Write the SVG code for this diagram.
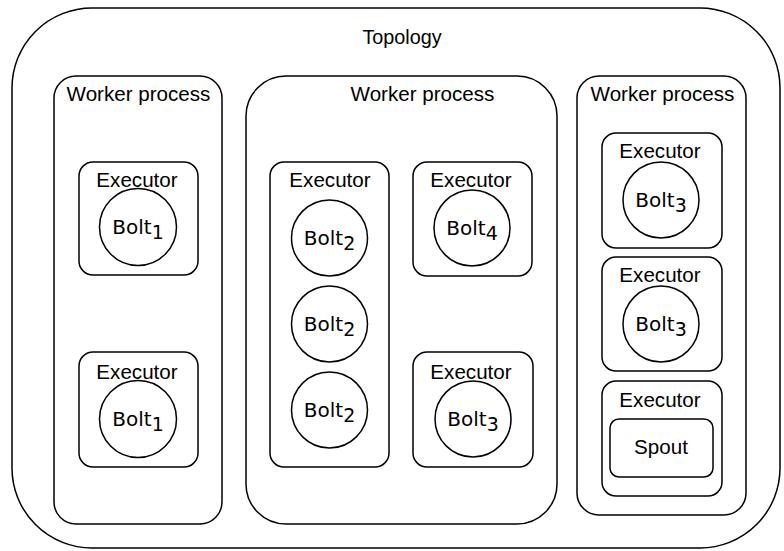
<svg xmlns="http://www.w3.org/2000/svg" width="784" height="551" viewBox="0 0 784 551">
<style>
.box{fill:none;stroke:#000;stroke-width:1.5}
.lbl{font-family:"Liberation Sans",Arial,sans-serif;font-size:20.6px;text-anchor:middle;fill:#000}
.bolt{font-family:"DejaVu Sans",Verdana,sans-serif;font-size:20px;text-anchor:middle;fill:#000}
.sub{font-size:19px}
</style>
<rect width="784" height="551" fill="#fff"/>
<g id="topology">
<rect class="box" x="12" y="8" width="768" height="540" rx="80" ry="80"/>
<text class="lbl" x="402" y="44" style="font-size:19.8px">Topology</text>
</g>
<g id="worker1">
<rect class="box" x="54" y="76" width="168" height="448" rx="22" ry="22"/>
<text class="lbl" x="138.5" y="101">Worker process</text>
</g>
<g id="worker2">
<rect class="box" x="246" y="76" width="311" height="448" rx="40" ry="40"/>
<text class="lbl" x="422.5" y="101">Worker process</text>
</g>
<g id="worker3">
<rect class="box" x="577" y="76" width="169" height="439" rx="22" ry="22"/>
<text class="lbl" x="662.5" y="101">Worker process</text>
</g>
<g id="exec1">
<rect class="box" x="79" y="162" width="119" height="113" rx="14" ry="14"/>
<text class="lbl" x="137" y="187">Executor</text>
<circle class="box" cx="138" cy="227" r="38.5"/>
<text class="bolt" x="138" y="234">Bolt<tspan class="sub" dy="5">1</tspan></text>
</g>
<g id="exec2">
<rect class="box" x="79" y="352" width="119" height="115" rx="14" ry="14"/>
<text class="lbl" x="137" y="379">Executor</text>
<circle class="box" cx="138" cy="419" r="38.5"/>
<text class="bolt" x="138" y="426">Bolt<tspan class="sub" dy="5">1</tspan></text>
</g>
<g id="exec3">
<rect class="box" x="270" y="162" width="119" height="305" rx="14" ry="14"/>
<text class="lbl" x="330" y="187">Executor</text>
<circle class="box" cx="329.5" cy="238" r="38"/>
<text class="bolt" x="329.5" y="245">Bolt<tspan class="sub" dy="5">2</tspan></text>
<circle class="box" cx="329.5" cy="324" r="38"/>
<text class="bolt" x="329.5" y="331">Bolt<tspan class="sub" dy="5">2</tspan></text>
<circle class="box" cx="329.5" cy="410" r="38"/>
<text class="bolt" x="329.5" y="417">Bolt<tspan class="sub" dy="5">2</tspan></text>
</g>
<g id="exec4">
<rect class="box" x="413" y="162" width="119" height="114" rx="14" ry="14"/>
<text class="lbl" x="471" y="187">Executor</text>
<circle class="box" cx="472" cy="228" r="38"/>
<text class="bolt" x="472" y="235">Bolt<tspan class="sub" dy="5">4</tspan></text>
</g>
<g id="exec5">
<rect class="box" x="413" y="352" width="120" height="115" rx="14" ry="14"/>
<text class="lbl" x="471" y="379">Executor</text>
<circle class="box" cx="473" cy="419" r="38"/>
<text class="bolt" x="473" y="426">Bolt<tspan class="sub" dy="5">3</tspan></text>
</g>
<g id="exec6">
<rect class="box" x="602" y="133" width="120" height="115" rx="14" ry="14"/>
<text class="lbl" x="660" y="158">Executor</text>
<circle class="box" cx="661" cy="200" r="38"/>
<text class="bolt" x="661" y="207">Bolt<tspan class="sub" dy="5">3</tspan></text>
</g>
<g id="exec7">
<rect class="box" x="602" y="257" width="120" height="114" rx="14" ry="14"/>
<text class="lbl" x="660" y="282">Executor</text>
<circle class="box" cx="661" cy="324" r="38"/>
<text class="bolt" x="661" y="331">Bolt<tspan class="sub" dy="5">3</tspan></text>
</g>
<g id="exec8">
<rect class="box" x="602" y="381" width="120" height="115" rx="14" ry="14"/>
<text class="lbl" x="660" y="407">Executor</text>
<g id="spout">
<rect class="box" x="610" y="419" width="103" height="58" rx="9" ry="9"/>
<text class="lbl" x="661" y="454">Spout</text>
</g>
</g>
<g id="connectors"></g>
</svg>
